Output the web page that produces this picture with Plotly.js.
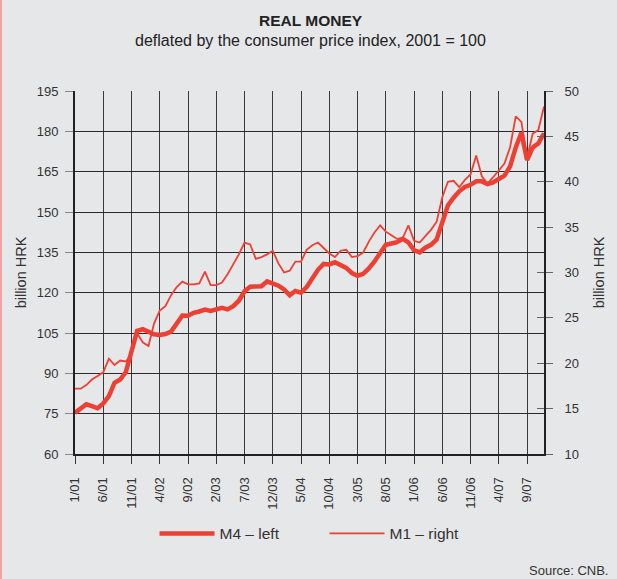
<!DOCTYPE html>
<html><head><meta charset="utf-8">
<script src="https://cdn.plot.ly/plotly-3.0.1.min.js"></script>
<style>html,body{margin:0;padding:0;background:#e6e7e9;}#chart{width:617px;height:579px;}</style>
</head><body><div id="chart"></div>
<script>
// Monthly categories, January 2001 - December 2007
const months = [];
for (let y = 1; y <= 7; y++) { for (let m = 1; m <= 12; m++) { months.push(m + '/0' + y); } }

// M4, billion HRK (left axis)
const m4 = [75.3, 77.0, 78.5, 77.8, 77.0, 78.8, 81.5, 86.5, 87.7, 90.5,
  98.3, 105.8, 106.4, 105.3, 104.5, 104.3, 104.6, 105.5, 108.5, 111.5,
  111.4, 112.5, 113.0, 113.7, 113.2, 113.6, 114.4, 113.8, 115.0, 117.0,
  120.5, 122.2, 122.4, 122.4, 124.2, 123.5, 122.6, 121.2, 119.0, 120.6,
  120.0, 122.1, 125.3, 128.5, 130.7, 130.5, 131.3, 130.3, 129.2, 127.3,
  126.3, 127.0, 129.0, 131.6, 134.5, 137.8, 138.3, 138.8, 140.0, 138.7,
  135.8, 135.0, 136.7, 137.8, 139.8, 146.0, 152.5, 155.3, 157.7, 159.3,
  160.1, 161.4, 161.4, 160.4, 161.0, 162.3, 163.5, 167.0, 174.0, 179.5,
  169.3, 174.0, 175.5, 179.3];

// M1, billion HRK (right axis)
const m1 = [17.2, 17.2, 17.6, 18.2, 18.6, 19.0, 20.5, 19.8, 20.3, 20.2,
  21.0, 23.3, 22.3, 21.9, 24.4, 25.8, 26.3, 27.5, 28.4, 29.0,
  28.7, 28.7, 28.8, 30.1, 28.6, 28.6, 28.9, 29.8, 30.9, 32.0,
  33.3, 33.1, 31.5, 31.7, 32.0, 32.4, 31.0, 30.0, 30.2, 31.2,
  31.2, 32.5, 33.0, 33.3, 32.7, 32.1, 31.7, 32.4, 32.5, 31.7,
  31.8, 32.2, 33.4, 34.4, 35.2, 34.5, 34.1, 33.7, 33.8, 35.2,
  33.5, 33.3, 34.0, 34.7, 35.6, 38.3, 40.0, 40.1, 39.4, 40.2,
  40.8, 42.9, 40.6, 39.8, 40.5, 41.2, 42.0, 43.8, 47.2, 46.6,
  42.6, 45.3, 45.7, 48.3];

const tickLabels = ['1/01','6/01','11/01','4/02','9/02','2/03','7/03','12/03','5/04',
  '10/04','3/05','8/05','1/06','6/06','11/06','4/07','9/07'];

const red = '#ee3f33';
const font = 'Liberation Sans, Arial, sans-serif';

const traces = [
  {x: months, y: m4, type: 'scatter', mode: 'lines', name: 'M4 \u2013 left',
   line: {color: red, width: 4.5}, yaxis: 'y'},
  {x: months, y: m1, type: 'scatter', mode: 'lines', name: 'M1 \u2013 right',
   line: {color: red, width: 1.8}, yaxis: 'y2'},
  {x: [], y: [], type: 'scatter', mode: 'lines', yaxis: 'y3', showlegend: false, hoverinfo: 'skip'}
];

const layout = {
  width: 617, height: 579,
  paper_bgcolor: '#e6e7e9', plot_bgcolor: '#e6e7e9',
  font: {family: font, color: '#333', size: 13},
  margin: {l: 75, r: 73, t: 91, b: 125},
  showlegend: true,
  legend: {orientation: 'h', x: 0.532, xanchor: 'center', y: -0.22, yanchor: 'middle',
    font: {size: 15.5, color: '#333'}, bgcolor: 'rgba(0,0,0,0)', entrywidth: 100, itemwidth: 55},
  xaxis: {type: 'category', range: [0, 83], tickmode: 'array', tickvals: tickLabels, ticktext: tickLabels,
    tickangle: -90, ticks: 'outside', ticklen: 8, tickcolor: '#333', tickfont: {size: 13, color: '#333'},
    ticklabelstandoff: 8,
    showgrid: true, gridcolor: '#3a3a3a', gridwidth: 1, showline: true, linecolor: '#222', linewidth: 2,
    zeroline: false, automargin: false},
  yaxis: {range: [60, 195], tick0: 60, dtick: 15, ticks: 'outside', ticklen: 8, tickcolor: '#888',
    tickfont: {size: 13, color: '#333'}, ticklabelstandoff: 4,
    showgrid: true, gridcolor: '#2a2a2a', gridwidth: 1, showline: true, linecolor: '#222', linewidth: 2,
    zeroline: false, automargin: false,
    title: {text: 'billion HRK', font: {size: 14.5, color: '#333'}, standoff: 7}},
  yaxis2: {overlaying: 'y', side: 'right', range: [10, 50], tick0: 10, dtick: 5, ticks: 'outside', ticklen: 7,
    tickcolor: '#666', tickfont: {size: 13, color: '#333'}, ticklabelstandoff: 9,
    showgrid: false, showline: true, linecolor: '#222', linewidth: 2, zeroline: false, automargin: false,
    title: {text: 'billion HRK', font: {size: 14.5, color: '#333'}, standoff: 16}},
  yaxis3: {overlaying: 'y', side: 'right', range: [10, 50], tick0: 10, dtick: 5, ticks: 'inside', ticklen: 7,
    tickcolor: '#666', showticklabels: false, showgrid: false, showline: false, zeroline: false, automargin: false},
  annotations: [
    {text: '<b>REAL MONEY</b>', xref: 'paper', yref: 'paper', x: 0.503, y: 1.193, xanchor: 'center', yanchor: 'middle',
     showarrow: false, font: {size: 15.5, color: '#222'}},
    {text: 'deflated by the consumer price index, 2001 = 100', xref: 'paper', yref: 'paper', x: 0.503, y: 1.138,
     xanchor: 'center', yanchor: 'middle', showarrow: false, font: {size: 16, color: '#222'}},
    {text: 'Source: CNB.', xref: 'paper', yref: 'paper', x: 1.141, y: -0.32, xanchor: 'right', yanchor: 'middle',
     showarrow: false, font: {size: 13, color: '#333'}}
  ],
  shapes: [
    {type: 'line', xref: 'paper', yref: 'paper', x0: -0.1578, x1: -0.1578, y0: -0.35, y1: 1.26,
     line: {color: '#f0a3a3', width: 2}}
  ]
};

Plotly.newPlot('chart', traces, layout, {displayModeBar: false, staticPlot: true});
</script>
</body></html>
